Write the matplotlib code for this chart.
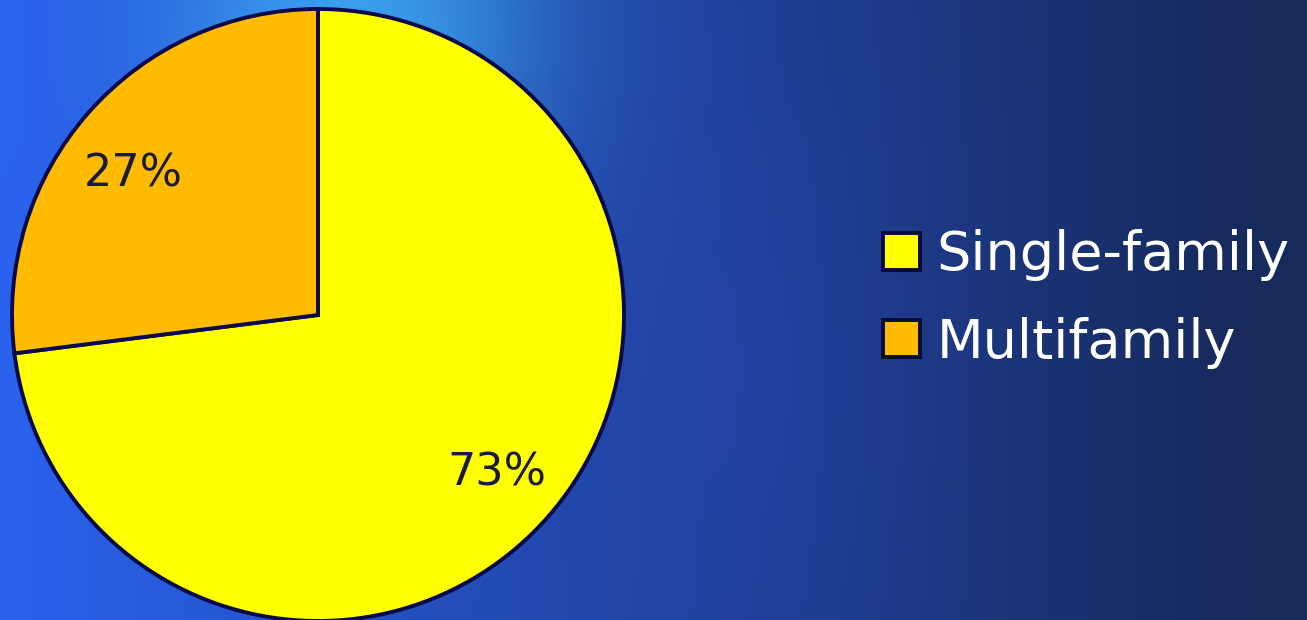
import numpy as np
import matplotlib.pyplot as plt
from matplotlib.colors import to_rgb

# housing type shares
labels = ['Single-family', 'Multifamily']
shares = [73, 27]
colors = ['#ffff00', '#ffbb00']

fig = plt.figure(figsize=(13.07, 6.2), dpi=100)

# blue slide background
bg = fig.add_axes([0, 0, 1, 1])
h, w = 124, 262
yy, xx = np.mgrid[0:h, 0:w]
xs = xx / (w - 1)
ys = yy / (h - 1)
left = np.array(to_rgb('#2a62ee'))
right = np.array(to_rgb('#172a5c'))
t = np.clip(xs * 1.05, 0, 1)[..., None]
img = left * (1 - t) + right * t
glow = np.exp(-(((xs - 0.27) / 0.14) ** 2 + ((ys - 0.05) / 0.35) ** 2))[..., None]
img = img * (1 - 0.7 * glow) + np.array(to_rgb('#44c0ff')) * 0.7 * glow
mid = np.exp(-(((xs - 0.55) / 0.14) ** 2 + ((ys - 0.6) / 0.5) ** 2))[..., None]
img = img * (1 - 0.4 * mid) + np.array(to_rgb('#2a44b0')) * 0.4 * mid
bg.imshow(np.clip(img, 0, 1), aspect='auto', interpolation='bicubic')
bg.axis('off')

# pie
cx, cy, r = 318, 315, 306
W, H = 1307, 620
ax = fig.add_axes([(cx - r) / W, (H - cy - r) / H, 2 * r / W, 2 * r / H])
wedges, texts, autotexts = ax.pie(shares, colors=colors, startangle=90,
                                  counterclock=False, radius=1,
                                  autopct='%d%%', pctdistance=0.78,
                                  wedgeprops=dict(edgecolor='#0a0a4a', linewidth=2.8),
                                  textprops=dict(fontsize=32, color='#1a1a40'))
for p in wedges:
    p.set_clip_on(False)
# nudge the small slice label a little lower, as on the slide
px, py = autotexts[1].get_position()
autotexts[1].set_position((px - 0.02, py - 0.055))
ax.set_xlim(-1, 1)
ax.set_ylim(-1, 1)
ax.axis('off')

leg = fig.legend(wedges, labels, loc='center left',
                 bbox_to_anchor=(883 / W, 1 - 299 / H),
                 frameon=False, fontsize=39, labelcolor='white',
                 borderpad=0, borderaxespad=0,
                 handlelength=0.68, handleheight=0.68, handletextpad=0.31,
                 labelspacing=0.65)
for p in leg.get_patches():
    p.set_linewidth(2.8)
    p.set_edgecolor('#0a0a3a')

fig.savefig('out.png', dpi=100)
